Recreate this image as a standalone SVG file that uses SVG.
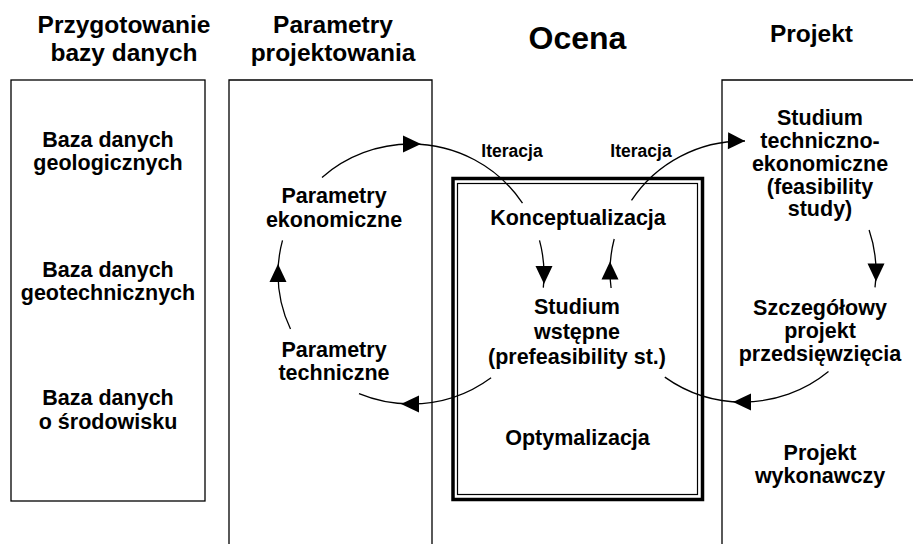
<svg xmlns="http://www.w3.org/2000/svg" width="913" height="544" viewBox="0 0 913 544">
<style>
text{font-family:"Liberation Sans",Arial,sans-serif;font-weight:bold;fill:#000;text-anchor:middle}
.t{font-size:24.5px}
.b{font-size:21.5px}
.s{font-size:17.5px}
.frame{fill:none;stroke:#000;stroke-width:1.3}
.arc{fill:none;stroke:#000;stroke-width:1.3}
</style>
<defs>
<marker id="mid" markerUnits="userSpaceOnUse" viewBox="-11 -11 22 22" refX="0" refY="0" markerWidth="22" markerHeight="22" orient="auto">
<path d="M-8,-8.5 L10,0 L-8,8.5 Z" fill="#000"/>
</marker>
<marker id="end" markerUnits="userSpaceOnUse" viewBox="-20 -11 22 22" refX="0" refY="0" markerWidth="22" markerHeight="22" orient="auto">
<path d="M-17,-8.5 L0,0 L-17,8.5 Z" fill="#000"/>
</marker>
</defs>
<rect width="913" height="544" fill="#fff"/>

<g id="col-baza">
<text class="t" x="124" y="33">Przygotowanie</text>
<text class="t" x="124" y="61">bazy danych</text>
<rect class="frame" x="11" y="80" width="194" height="421"/>
<text class="b" x="108" y="147">Baza danych</text>
<text class="b" x="108" y="170">geologicznych</text>
<text class="b" x="108" y="277">Baza danych</text>
<text class="b" x="108" y="300">geotechnicznych</text>
<text class="b" x="108" y="405">Baza danych</text>
<text class="b" x="108" y="429">o środowisku</text>
</g>

<g id="col-parametry">
<text class="t" x="333" y="33">Parametry</text>
<text class="t" x="333" y="61">projektowania</text>
<path class="frame" d="M229,544 V80 H432 V544"/>
<text class="b" x="334" y="203">Parametry</text>
<text class="b" x="334" y="227">ekonomiczne</text>
<text class="b" x="334" y="357">Parametry</text>
<text class="b" x="334" y="380">techniczne</text>
</g>

<g id="col-ocena">
<text x="577.5" y="49" style="font-size:32px">Ocena</text>
<rect x="453" y="178.5" width="249.5" height="321" fill="none" stroke="#000" stroke-width="3.5"/>
<rect x="457.5" y="183.5" width="240" height="311" fill="none" stroke="#000" stroke-width="1.2"/>
<text class="s" x="512" y="157">Iteracja</text>
<text class="s" x="641" y="157">Iteracja</text>
<text class="b" x="578" y="225">Konceptualizacja</text>
<text class="b" x="577" y="314">Studium</text>
<text class="b" x="577" y="339">wstępne</text>
<text class="b" x="577" y="364">(prefeasibility st.)</text>
<text class="b" x="577.5" y="445">Optymalizacja</text>
</g>

<g id="col-projekt">
<text class="t" x="811.5" y="42">Projekt</text>
<path class="frame" d="M722,544 V80 H913"/>
<text class="b" x="820" y="125">Studium</text>
<text class="b" x="820" y="148">techniczno-</text>
<text class="b" x="820" y="171">ekonomiczne</text>
<text class="b" x="820" y="194">(feasibility</text>
<text class="b" x="820" y="216">study)</text>
<text class="b" x="820" y="315">Szczegółowy</text>
<text class="b" x="820" y="338">projekt</text>
<text class="b" x="820" y="361">przedsięwzięcia</text>
<text class="b" x="820" y="460">Projekt</text>
<text class="b" x="820" y="483">wykonawczy</text>
</g>

<g id="connectors">
<path class="arc" marker-mid="url(#mid)" d="M322,177.4 A133,130 0 0,1 411,144 A133,130 0 0,1 522.5,203.2"/>
<path class="arc" marker-mid="url(#mid)" d="M539.5,240.4 A133,130 0 0,1 544,274 A133,130 0 0,1 543.3,287.6"/>
<path class="arc" marker-mid="url(#mid)" d="M491.1,377.8 A133,130 0 0,1 411,404 A133,130 0 0,1 359,393.7"/>
<path class="arc" marker-mid="url(#mid)" d="M290.5,329 A133,130 0 0,1 278,274 A133,130 0 0,1 282.5,240.3"/>
<path class="arc" marker-end="url(#end)" d="M631.5,200.4 A133,130.5 0 0,1 745,141"/>
<path class="arc" marker-mid="url(#mid)" d="M869.1,230 A133,130.5 0 0,1 876,271.5 A133,130.5 0 0,1 875,287.4"/>
<path class="arc" marker-mid="url(#mid)" d="M828.5,371.5 A133,130.5 0 0,1 743,402 A133,130.5 0 0,1 664.8,377.1"/>
<path class="arc" marker-mid="url(#mid)" d="M611.1,288 A133,130.5 0 0,1 610,271.5 A133,130.5 0 0,1 614.2,239"/>
</g>
</svg>
